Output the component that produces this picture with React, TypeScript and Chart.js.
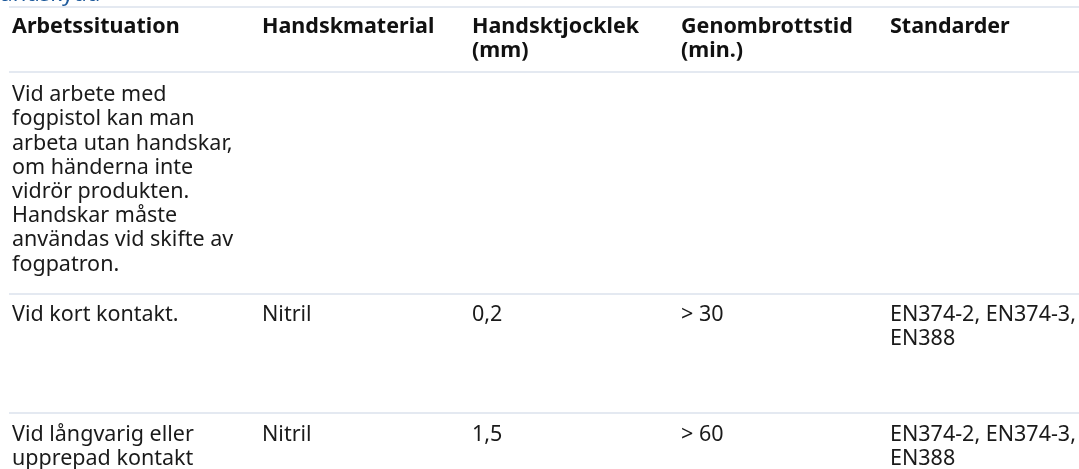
import React, { useEffect, useRef } from "react";
import { Chart, registerables } from "chart.js";

Chart.register(...registerables);

// ---- data ----
const title = "Handskydd";
const headers = ["Arbetssituation", "Handskmaterial", "Handsktjocklek\n(mm)", "Genombrottstid\n(min.)", "Standarder"];
const situations = [
  "Vid arbete med\nfogpistol kan man\narbeta utan handskar,\nom händerna inte\nvidrör produkten.\nHandskar måste\nanvändas vid skifte av\nfogpatron.",
  "Vid kort kontakt.",
  "Vid långvarig eller\nupprepad kontakt",
];
const materials = ["", "Nitril", "Nitril"];
const thickness = ["", "0,2", "1,5"];
const breakthrough = ["", "> 30", "> 60"];
const standards = ["", "EN374-2, EN374-3,\nEN388", "EN374-2, EN374-3,\nEN388"];

// ---- layout (scale units = px) ----
const colX = [12, 262, 472, 681, 890];
const rowLines = [7, 72, 294, 413];
const rowPad = [20, 23, 21, 22];
const lineH = 24.2;
const FONT = "'Noto Sans', 'Open Sans', sans-serif";
const FS = 21.5;

const tablePlugin = {
  id: "tableText",
  afterDraw(chart: any) {
    const ctx = chart.ctx;
    const xs = chart.scales.x;
    const ys = chart.scales.y;
    ctx.save();
    // title (partly cut off at top)
    ctx.fillStyle = "#1e5a9c";
    ctx.font = `22px ${FONT}`;
    ctx.textBaseline = "alphabetic";
    ctx.textAlign = "left";
    ctx.fillText(title, xs.getPixelForValue(-16), ys.getPixelForValue(1));

    ctx.textBaseline = "middle";
    const drawCell = (text: string, col: number, row: number, bold: boolean) => {
      ctx.font = `${bold ? "bold " : ""}${FS}px ${FONT}`;
      ctx.fillStyle = bold ? "#111111" : "#1a1a1a";
      const lines = text.split("\n");
      lines.forEach((ln, k) => {
        const y = ys.getPixelForValue(rowLines[row] + rowPad[row] + k * lineH);
        ctx.fillText(ln, xs.getPixelForValue(colX[col]), y);
      });
    };
    headers.forEach((h, c) => drawCell(h, c, 0, true));
    const cols = [situations, materials, thickness, breakthrough, standards];
    for (let r = 0; r < situations.length; r++) {
      cols.forEach((arr, c) => {
        if (arr[r]) drawCell(arr[r], c, r + 1, false);
      });
    }
    ctx.restore();
  },
};

export default function App() {
  const ref = useRef<HTMLCanvasElement>(null);
  useEffect(() => {
    if (!ref.current) return;
    const chart = new Chart(ref.current, {
      type: "scatter",
      data: { datasets: [] },
      plugins: [tablePlugin],
      options: {
        animation: false,
        responsive: false,
        layout: { padding: { left: 9, right: 0, top: 0, bottom: 0 } },
        plugins: { legend: { display: false }, tooltip: { enabled: false } },
        scales: {
          x: { type: "linear", min: 9, max: 1079, display: false },
          y: {
            type: "linear",
            reverse: true,
            min: 0,
            max: 469,
            position: "left",
            border: { display: false },
            ticks: { display: false },
            grid: { drawTicks: false, color: "#e4e9f1", lineWidth: 2 },
            afterBuildTicks: (s: any) => {
              s.ticks = rowLines.map((v) => ({ value: v }));
            },
            afterFit: (s: any) => {
              s.width = 0;
            },
          },
        },
      },
    } as any);
    return () => chart.destroy();
  }, []);
  return (
    <div style={{ position: "absolute", left: 0, top: 0, width: 1079, height: 469, background: "#fff" }}>
      <canvas ref={ref} width={1079} height={469} style={{ width: 1079, height: 469 }} />
    </div>
  );
}
